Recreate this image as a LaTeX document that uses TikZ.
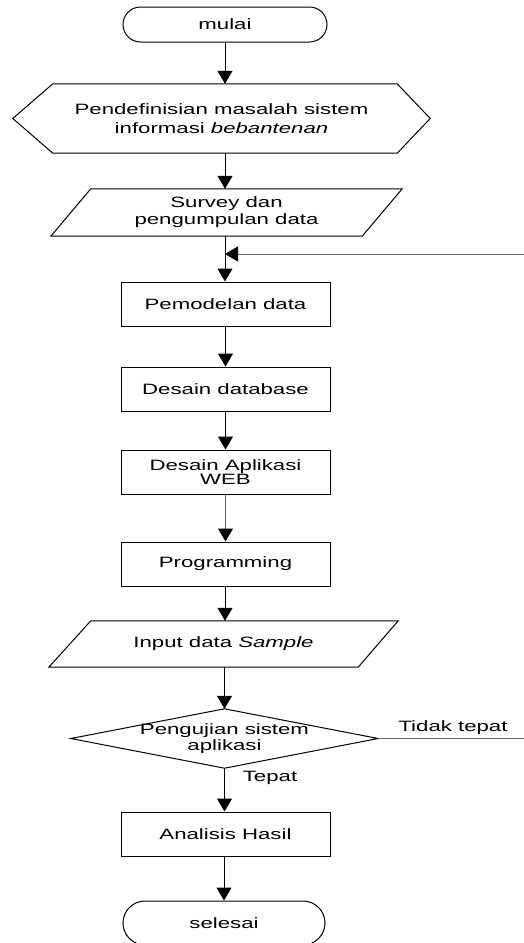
\documentclass[tikz,border=0pt]{standalone}
\usepackage{fontspec}
\setmainfont{Liberation Sans}[FakeStretch=1.48]
\usetikzlibrary{arrows.meta,calc}

\begin{document}
\begin{tikzpicture}[x=1pt,y=-1pt,
  every node/.style={font=\fontsize{15pt}{17pt}\selectfont, align=center, inner sep=0pt},
  frame/.style={draw, line width=1pt},
  box/.style={frame, minimum width=209pt, minimum height=44pt},
  flow/.style={draw, line width=1pt, -{Triangle[width=15pt,length=13pt,fill=black,color=black]}},
]
\useasboundingbox[fill=white] (0,0) rectangle (524,943);

% main axis of the flow and helper points
\coordinate (ax) at (225,0);
\coordinate (rim) at (532,0);
\coordinate (join) at (225,254);

% terminator: start
\node[frame, rounded corners=17.5pt, minimum width=204pt, minimum height=35pt] (mulai) at (225,24.5) {mulai};

% preparation (hexagon)
\node[minimum width=417pt, minimum height=69pt] (defn) at (221.5,118.5)
  {Pendefinisian masalah sistem\\[2pt]informasi \textit{bebantenan}};
\draw[frame] (defn.west) -- ($(defn.north west)+(40,0)$) -- ($(defn.north east)+(-33,0)$)
  -- (defn.east) -- ($(defn.south east)+(-33,0)$) -- ($(defn.south west)+(40,0)$) -- cycle;

% data (parallelogram)
\node[minimum width=351pt, minimum height=47pt] (survey) at (226.5,212.5)
  {Survey dan\\pengumpulan data};
\draw[frame] ($(survey.north west)+(40,0)$) -- (survey.north east)
  -- ($(survey.south east)+(-40,0)$) -- (survey.south west) -- cycle;

% processes
\node[box] (pem) at (225.5,304) {Pemodelan data};
\node[box] (db)  at (225.5,389) {Desain database};
\node[box] (web) at (225.5,472) {Desain Aplikasi\\[-3pt]WEB};
\node[box] (prog) at (225.5,564) {Programming};

% data (parallelogram)
\node[minimum width=349pt, minimum height=46pt] (input) at (223.5,644)
  {Input data \textit{Sample}};
\draw[frame] ($(input.north west)+(42,0)$) -- (input.north east)
  -- ($(input.south east)+(-40,0)$) -- (input.south west) -- cycle;

% decision
\node[minimum width=307pt, minimum height=59pt] (uji) at (224.5,738.5)
  {Pengujian sistem\\[-1pt]aplikasi};
\draw[frame] (uji.north) -- (uji.east) -- (uji.south) -- (uji.west) -- cycle;

\node[box] (ana) at (225.5,834) {Analisis Hasil};

% terminator: end
\node[frame, rounded corners=22pt, minimum width=202pt, minimum height=44pt] (end) at (224,923) {selesai};

% labels of the decision branches
\node (tt) at (453,728) {Tidak tepat};
\node (tp) at (270,778) {Tepat};

% connectors
\draw[flow] (mulai.south) -- (mulai.south |- defn.north);
\draw[flow] (defn.south -| ax) -- (survey.north -| ax);
\draw[flow] (survey.south -| ax) -- (pem.north -| ax);
\draw[flow] (pem.south) -- (db.north);
\draw[flow] (db.south) -- (web.north);
\draw[flow, draw=black!60] (web.south) -- (prog.north);
\draw[flow] (prog.south -| ax) -- (input.north -| ax);
\draw[flow] (input.south -| uji.north) -- (uji.north);
\draw[flow] (uji.south) -- (uji.south |- ana.north);
\draw[flow] (ana.south -| end.north) -- (end.north);

% return path when the test fails
\draw[flow, draw=black!60] (uji.east) -- (uji.east -| rim) -- (rim |- join) -- (join);
\end{tikzpicture}
\end{document}
